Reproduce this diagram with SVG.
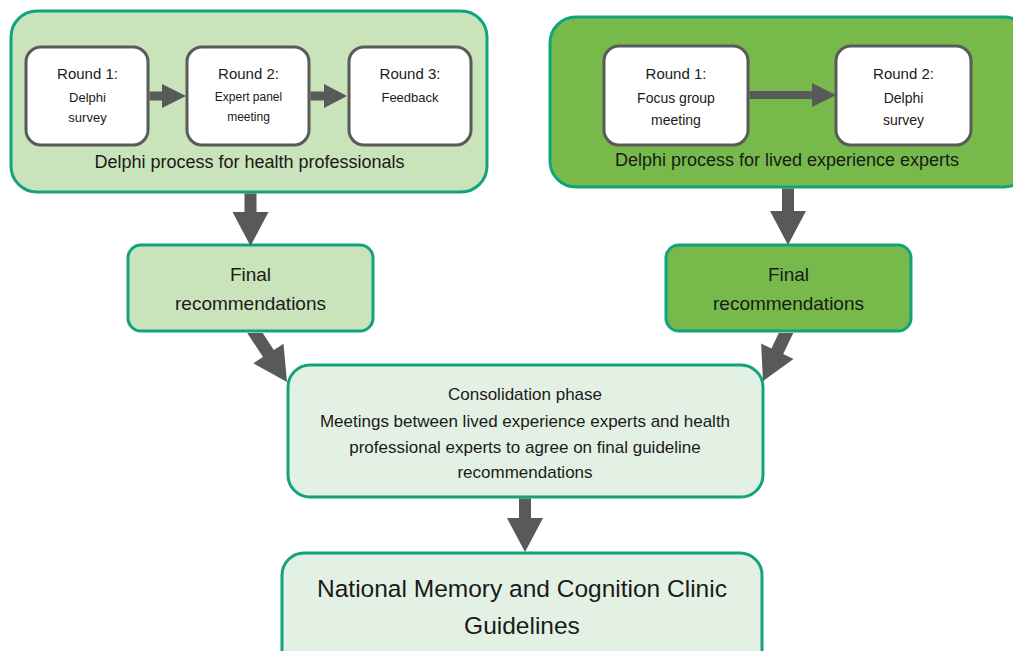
<svg xmlns="http://www.w3.org/2000/svg" width="1013" height="651" viewBox="0 0 1013 651">
<style>
text{font-family:"Liberation Sans",Arial,sans-serif;fill:#1a1a1a;text-anchor:middle}
.outer{stroke:#12a37d;stroke-width:3}
.light{fill:#c9e3ba}
.dark{fill:#77b94a}
.pale{fill:#e3f1e4}
.inner{fill:#ffffff;stroke:#5a5a5a;stroke-width:3}
.arrow{fill:#58595b}
</style>
<rect width="1013" height="651" fill="#ffffff"/>
<g id="health-process">
<rect class="outer light" x="11" y="11" width="476" height="181" rx="26"/>
<text x="249.5" y="168" font-size="18">Delphi process for health professionals</text>
</g>
<g id="h-round1">
<rect class="inner" x="26" y="47" width="122" height="98" rx="15"/>
<text x="87.5" y="79" font-size="15">Round 1:</text>
<text x="87.5" y="101.5" font-size="13">Delphi</text>
<text x="87.5" y="122" font-size="13">survey</text>
</g>
<g id="h-round2">
<rect class="inner" x="187" y="47" width="122" height="98" rx="15"/>
<text x="248.5" y="79" font-size="15">Round 2:</text>
<text x="248.5" y="101" font-size="12">Expert panel</text>
<text x="248.5" y="120.5" font-size="12">meeting</text>
</g>
<g id="h-round3">
<rect class="inner" x="349" y="47" width="122" height="98" rx="15"/>
<text x="410" y="79" font-size="15">Round 3:</text>
<text x="410" y="101.5" font-size="13">Feedback</text>
</g>
<g id="lived-process">
<rect class="outer dark" x="550" y="17" width="480" height="170" rx="26"/>
<text x="787" y="166" font-size="18">Delphi process for lived experience experts</text>
</g>
<g id="l-round1">
<rect class="inner" x="604" y="46" width="144" height="99" rx="15"/>
<text x="676" y="79" font-size="15">Round 1:</text>
<text x="676" y="103" font-size="14">Focus group</text>
<text x="676" y="125" font-size="14">meeting</text>
</g>
<g id="l-round2">
<rect class="inner" x="836" y="46" width="135" height="99" rx="15"/>
<text x="903.5" y="79" font-size="15">Round 2:</text>
<text x="903.5" y="103" font-size="14">Delphi</text>
<text x="903.5" y="125" font-size="14">survey</text>
</g>
<g id="h-final">
<rect class="outer light" x="128" y="245" width="245" height="86" rx="13"/>
<text x="250.5" y="281" font-size="19">Final</text>
<text x="250.5" y="310" font-size="19">recommendations</text>
</g>
<g id="l-final">
<rect class="outer dark" x="666" y="245" width="245" height="86" rx="13"/>
<text x="788.5" y="281" font-size="19">Final</text>
<text x="788.5" y="310" font-size="19">recommendations</text>
</g>
<g id="consolidation">
<rect class="outer pale" x="288" y="365" width="475" height="132" rx="22"/>
<text x="525" y="400" font-size="17">Consolidation phase</text>
<text x="525" y="427" font-size="17">Meetings between lived experience experts and health</text>
<text x="525" y="453" font-size="17">professional experts to agree on final guideline</text>
<text x="525" y="478" font-size="17">recommendations</text>
</g>
<g id="guidelines">
<rect class="outer pale" x="282" y="553" width="480" height="120" rx="22"/>
<text x="522" y="597" font-size="24.5">National Memory and Cognition Clinic</text>
<text x="522" y="634" font-size="24.5">Guidelines</text>
</g>
<g id="connectors">
<polygon class="arrow" points="149.5,91.5 162,91.5 162,84 186,96 162,108 162,100.5 149.5,100.5"/>
<polygon class="arrow" points="310.5,91.5 324,91.5 324,84 347,96 324,108 324,100.5 310.5,100.5"/>
<polygon class="arrow" points="749.5,91 812,91 812,83 836,95 812,107 812,99 749.5,99"/>
<polygon class="arrow" points="244.5,193.5 256.5,193.5 256.5,212 268.5,212 250.5,246 232.5,212 244.5,212"/>
<polygon class="arrow" points="782,188.5 794,188.5 794,211 806,211 788,245 770,211 782,211"/>
<polygon class="arrow" points="262.75,333 273.8,349.9 283.5,343.7 287,382 253.3,363.3 263,357.1 247.25,333"/>
<polygon class="arrow" points="778.8,333 771.4,348.5 761.1,343.5 763,381 793.5,359.1 783.2,354.1 793.3,333"/>
<polygon class="arrow" points="519,498.5 531,498.5 531,518 543,518 525,552 507,518 519,518"/>
</g>
</svg>
